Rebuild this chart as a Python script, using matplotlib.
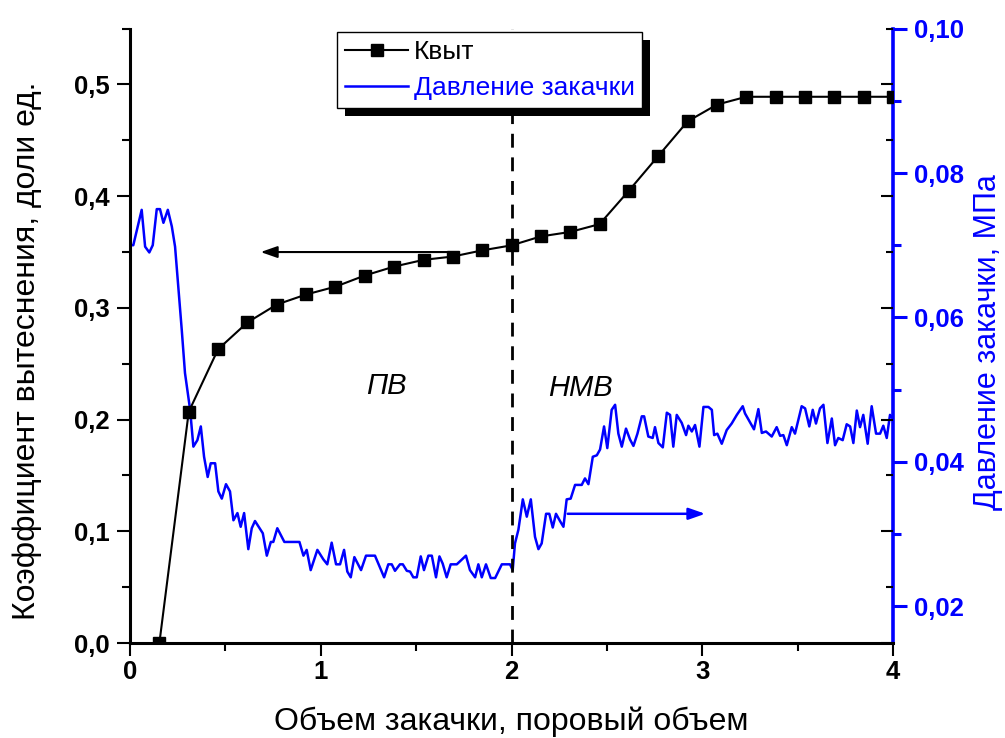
import numpy as np
import matplotlib
matplotlib.use('Agg')
import matplotlib.pyplot as plt
from matplotlib.patches import Rectangle
from matplotlib.ticker import MultipleLocator, FuncFormatter

plt.rcParams['font.family'] = ['Liberation Sans', 'DejaVu Sans']

# --- данные ---------------------------------------------------------------
# Квыт (коэффициент вытеснения)
k_x = [i * 4 / 26 for i in range(1, 27)]
k_y = [0.000, 0.207, 0.263, 0.287, 0.303, 0.312, 0.319, 0.329, 0.337, 0.343,
       0.346, 0.3515, 0.356, 0.364, 0.368, 0.375, 0.405, 0.436, 0.467, 0.482,
       0.489, 0.489, 0.489, 0.489, 0.489, 0.489]

# давление закачки, МПа
p_x = [0.005, 0.017, 0.061, 0.079, 0.101, 0.119, 0.140, 0.157, 0.175, 0.198,
       0.219, 0.236, 0.253, 0.271, 0.288, 0.315, 0.332, 0.353, 0.371, 0.388,
       0.407, 0.423, 0.446, 0.463, 0.481, 0.503, 0.524, 0.542, 0.563, 0.580,
       0.598, 0.620, 0.638, 0.655, 0.696, 0.717, 0.738, 0.751, 0.772, 0.809,
       0.888, 0.909, 0.926, 0.947, 0.982, 1.013, 1.034, 1.057, 1.080, 1.101,
       1.122, 1.139, 1.157, 1.176, 1.211, 1.237, 1.284, 1.332, 1.354, 1.372,
       1.389, 1.415, 1.430, 1.451, 1.468, 1.485, 1.503, 1.524, 1.541, 1.564,
       1.582, 1.604, 1.622, 1.639, 1.660, 1.681, 1.713, 1.761, 1.782, 1.809,
       1.826, 1.844, 1.866, 1.891, 1.914, 1.949, 1.992, 2.006, 2.018, 2.036,
       2.059, 2.080, 2.101, 2.123, 2.141, 2.158, 2.181, 2.198, 2.216, 2.233,
       2.254, 2.272, 2.289, 2.310, 2.333, 2.368, 2.385, 2.403, 2.426, 2.447,
       2.464, 2.485, 2.502, 2.525, 2.543, 2.560, 2.578, 2.600, 2.621, 2.639,
       2.660, 2.683, 2.695, 2.717, 2.740, 2.752, 2.770, 2.793, 2.814, 2.831,
       2.848, 2.866, 2.892, 2.915, 2.927, 2.945, 2.962, 2.985, 3.006, 3.032,
       3.050, 3.062, 3.079, 3.102, 3.128, 3.154, 3.181, 3.212, 3.224, 3.241,
       3.271, 3.294, 3.312, 3.334, 3.364, 3.390, 3.408, 3.425, 3.443, 3.469,
       3.486, 3.521, 3.539, 3.561, 3.579, 3.596, 3.617, 3.635, 3.656, 3.679,
       3.696, 3.713, 3.736, 3.757, 3.775, 3.792, 3.810, 3.827, 3.844, 3.867,
       3.888, 3.911, 3.932, 3.949, 3.967, 3.984, 4.000]
p_y = [0.0700, 0.0700, 0.0749, 0.0698, 0.0690, 0.0700, 0.0750, 0.0750, 0.0731, 0.0749,
       0.0726, 0.0698, 0.0643, 0.0583, 0.0523, 0.0472, 0.0421, 0.0430, 0.0449, 0.0407,
       0.0379, 0.0398, 0.0398, 0.0359, 0.0349, 0.0369, 0.0359, 0.0319, 0.0329, 0.0310,
       0.0329, 0.0279, 0.0308, 0.0318, 0.0301, 0.0270, 0.0289, 0.0289, 0.0308, 0.0289,
       0.0289, 0.0270, 0.0278, 0.0250, 0.0278, 0.0265, 0.0258, 0.0288, 0.0258, 0.0258,
       0.0278, 0.0248, 0.0240, 0.0268, 0.0250, 0.0270, 0.0270, 0.0240, 0.0258, 0.0258,
       0.0249, 0.0258, 0.0258, 0.0249, 0.0248, 0.0240, 0.0240, 0.0269, 0.0250, 0.0270,
       0.0270, 0.0240, 0.0269, 0.0259, 0.0240, 0.0258, 0.0258, 0.0270, 0.0250, 0.0240,
       0.0258, 0.0240, 0.0258, 0.0239, 0.0239, 0.0258, 0.0258, 0.0250, 0.0287, 0.0306,
       0.0348, 0.0324, 0.0348, 0.0296, 0.0279, 0.0287, 0.0328, 0.0328, 0.0309, 0.0328,
       0.0318, 0.0310, 0.0348, 0.0349, 0.0368, 0.0368, 0.0377, 0.0369, 0.0407, 0.0409,
       0.0417, 0.0449, 0.0419, 0.0472, 0.0479, 0.0439, 0.0421, 0.0446, 0.0431, 0.0422,
       0.0439, 0.0463, 0.0463, 0.0435, 0.0433, 0.0448, 0.0426, 0.0420, 0.0468, 0.0465,
       0.0421, 0.0465, 0.0454, 0.0437, 0.0450, 0.0442, 0.0451, 0.0421, 0.0476, 0.0476,
       0.0472, 0.0437, 0.0439, 0.0425, 0.0444, 0.0453, 0.0465, 0.0477, 0.0467, 0.0459,
       0.0445, 0.0473, 0.0440, 0.0442, 0.0435, 0.0448, 0.0436, 0.0437, 0.0423, 0.0448,
       0.0439, 0.0477, 0.0474, 0.0449, 0.0472, 0.0453, 0.0474, 0.0479, 0.0426, 0.0460,
       0.0423, 0.0433, 0.0430, 0.0452, 0.0449, 0.0426, 0.0471, 0.0448, 0.0465, 0.0425,
       0.0477, 0.0439, 0.0439, 0.0450, 0.0433, 0.0465, 0.0460]

BLUE = '#0000FF'
FS_TICK = 18.5
FS_LAB = 23
FS_LEG = 19
FS_TXT = 21

fig = plt.figure(figsize=(10.05, 7.38), dpi=100)
ax = fig.add_axes([0.1294, 0.1287, 0.7592, 0.8325])
ax2 = ax.twinx()
ax3 = ax.twinx()   # зеркальные тики левой оси на правой стороне

# pressure (right axis) under the markers
ax2.plot(p_x, p_y, color=BLUE, lw=1.8, zorder=2)
ax2.set_ylim(0.0149, 0.10)
ax2.yaxis.set_major_locator(MultipleLocator(0.02))
ax2.yaxis.set_minor_locator(MultipleLocator(0.01))
ax2.yaxis.set_major_formatter(FuncFormatter(lambda v, _: f'{v:.2f}'.replace('.', ',')))
ax2.tick_params(axis='y', which='major', direction='out', length=10, width=2.2,
                colors=BLUE, labelsize=FS_TICK, pad=5)
ax2.tick_params(axis='y', which='minor', direction='out', length=6, width=2.2, colors=BLUE)
for lb in ax2.get_yticklabels():
    lb.set_fontweight('bold')
ax2.spines['right'].set_color(BLUE)
ax2.spines['right'].set_linewidth(2.6)
for s in ('top', 'left', 'bottom'):
    ax2.spines[s].set_visible(False)
ax2.set_ylabel('Давление закачки, МПа', color=BLUE, fontsize=FS_LAB - 1, rotation=90)
ax2.yaxis.set_label_coords(1.125, 0.49)
ax2.yaxis.label.set_va('center')
ax2.annotate('', xy=(3.03, 0.0328), xytext=(2.28, 0.0328),
             arrowprops=dict(arrowstyle='-|>,head_length=1.0,head_width=0.35',
                             color=BLUE, lw=1.8))

ax3.set_ylim(0, 0.55)
ax3.yaxis.set_major_locator(MultipleLocator(0.1))
ax3.yaxis.set_minor_locator(MultipleLocator(0.05))
ax3.tick_params(axis='y', which='major', direction='in', length=9, width=1.5, labelright=False)
ax3.tick_params(axis='y', which='minor', direction='in', length=5, width=1.5)
for s in ax3.spines.values():
    s.set_visible(False)

ax.set_zorder(ax2.get_zorder() + 2)
ax.patch.set_visible(False)

ax.plot(k_x, k_y, color='black', lw=1.5, marker='s', ms=8, mfc='black', mec='black',
        label='Квыт', zorder=3)
ax.plot([], [], color=BLUE, lw=1.8, label='Давление закачки')
ax.axvline(2.0, color='black', lw=2, ls=(0, (5, 3.5)), zorder=1)
ax.annotate('', xy=(0.67, 0.350), xytext=(1.69, 0.350),
            arrowprops=dict(arrowstyle='-|>,head_length=1.0,head_width=0.35',
                            color='black', lw=1.5))
ax.text(1.342, 0.230, 'ПВ', fontsize=FS_TXT, style='italic', ha='center', va='center')
ax.text(2.36, 0.228, 'НМВ', fontsize=FS_TXT, style='italic', ha='center', va='center')

ax.set_xlim(0, 4)
ax.set_ylim(0, 0.55)
ax.xaxis.set_major_locator(MultipleLocator(1))
ax.xaxis.set_minor_locator(MultipleLocator(0.5))
ax.yaxis.set_major_locator(MultipleLocator(0.1))
ax.yaxis.set_minor_locator(MultipleLocator(0.05))
ax.xaxis.set_major_formatter(FuncFormatter(lambda v, _: f'{v:.0f}'))
ax.yaxis.set_major_formatter(FuncFormatter(lambda v, _: f'{v:.1f}'.replace('.', ',')))
ax.tick_params(which='major', direction='out', length=9.5, width=1.5, labelsize=FS_TICK, pad=5)
ax.tick_params(which='minor', direction='out', length=5.5, width=1.5)
ax.tick_params(axis='x', which='major', pad=3)
for lb in ax.get_xticklabels() + ax.get_yticklabels():
    lb.set_fontweight('bold')
for s in ('top', 'right'):
    ax.spines[s].set_visible(False)
for s in ('left', 'bottom'):
    ax.spines[s].set_linewidth(2.2)

ax.set_xlabel('Объем закачки, поровый объем', fontsize=FS_LAB)
ax.xaxis.set_label_coords(0.5, -0.128)
ax.xaxis.label.set_va('center')
ax.set_ylabel('Коэффициент вытеснения, доли ед.', fontsize=FS_LAB)
ax.yaxis.set_label_coords(-0.135, 0.475)
ax.yaxis.label.set_va('center')

leg = ax.legend(loc='upper left', bbox_to_anchor=(0.2713, 0.9945), fontsize=FS_LEG,
                frameon=True, fancybox=False, edgecolor='black', framealpha=1,
                labelcolor='linecolor', handlelength=2.4, handletextpad=0.2,
                borderpad=0.3, labelspacing=0.45, borderaxespad=0)
leg.get_frame().set_linewidth(1)
leg.set_zorder(10)

# тень легенды (сдвиг вправо-вниз)
fig.canvas.draw()
bb = leg.get_window_extent().transformed(fig.transFigure.inverted())
dx, dy = 8 / 1005, 8 / 738
fig.patches.append(Rectangle((bb.x0 + dx, bb.y0 - dy), bb.width, bb.height,
                             transform=fig.transFigure, facecolor='black',
                             edgecolor='none', zorder=0))

fig.savefig('out.png', dpi=100)
